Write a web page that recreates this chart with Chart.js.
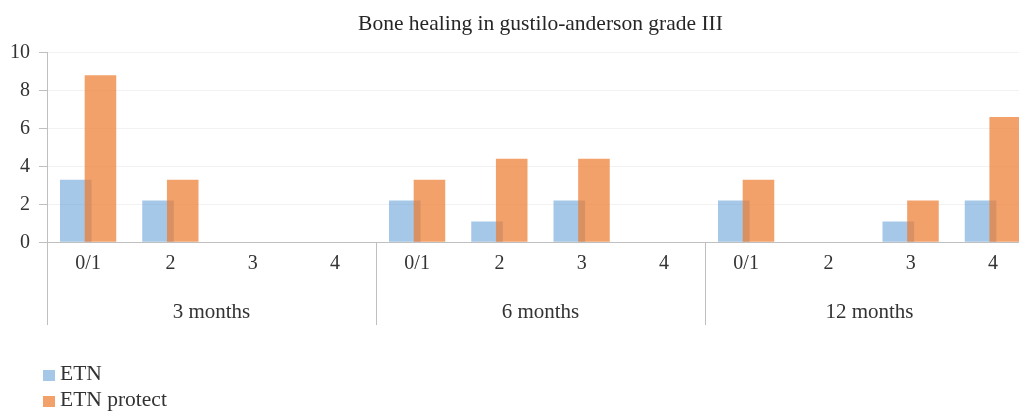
<!DOCTYPE html>
<html><head><meta charset="utf-8">
<script src="https://cdn.jsdelivr.net/npm/chart.js@4"></script>
<style>
html,body{margin:0;padding:0;background:#fff;overflow:hidden;width:1019px;height:412px;}
#wrap{position:absolute;left:0;top:0;width:1036px;height:412px;}
#legend{position:absolute;left:43px;top:360px;font-family:'Liberation Serif',serif;font-size:21.5px;color:#333;}
.row{position:relative;height:26px;width:200px;}
.sw{position:absolute;left:0;top:10px;width:12px;height:11px;}
.lt{position:absolute;left:17px;top:0;line-height:26px;white-space:nowrap;}
</style></head><body>
<div id="wrap"><canvas id="c"></canvas></div>
<div id="legend"></div>
<script>
// ---- data ----
const chartTitle = 'Bone healing in gustilo-anderson grade III';
const grades = ['0/1', '2', '3', '4', '0/1', '2', '3', '4', '0/1', '2', '3', '4'];
const periods = ['3 months', '6 months', '12 months'];
const seriesNames = ['ETN', 'ETN protect'];
const etn = [3.3, 2.2, 0, 0, 2.2, 1.1, 2.2, 0, 2.2, 0, 1.1, 2.2];
const etnProtect = [8.8, 3.3, 0, 0, 3.3, 4.4, 4.4, 0, 3.3, 0, 2.2, 6.6];
const yMin = 0, yMax = 10, yStep = 2;

// ---- style ----
const FONT = 'Liberation Serif';
const blue = 'rgba(91,155,213,0.55)';
const orange = 'rgba(237,125,49,0.72)';
const axisGrey = '#bfbfbf';
const textCol = '#333333';

// draw the orange series on top of the blue one
const drawOrder = {
  id: 'drawOrder',
  beforeDatasetDraw(chart, args) { if (args.index === 1) return false; },
  afterDatasetDraw(chart, args) {
    if (args.index === 0) {
      const ctx = chart.ctx, a = chart.chartArea;
      ctx.save();
      ctx.beginPath();
      ctx.rect(a.left, a.top, a.right - a.left, a.bottom - a.top);
      ctx.clip();
      chart.getDatasetMeta(1).controller.draw();
      ctx.restore();
    }
  }
};

Chart.defaults.font.family = FONT;

const chart = new Chart(document.getElementById('c'), {
  type: 'bar',
  data: {
    labels: grades,
    datasets: [
      { label: seriesNames[0], data: etn, backgroundColor: blue, borderWidth: 0 },
      { label: seriesNames[1], data: etnProtect, backgroundColor: orange, borderWidth: 0 }
    ]
  },
  options: {
    responsive: true,
    maintainAspectRatio: false,
    animation: false,
    categoryPercentage: 0.6,
    barPercentage: 1.28,
    layout: { padding: { left: 0, right: 2, top: 0, bottom: 87.7 } },
    plugins: {
      legend: { display: false },
      tooltip: { enabled: false },
      title: {
        display: true, text: chartTitle, fullSize: false, color: '#262626',
        font: { family: FONT, size: 21.5, weight: 'normal' },
        padding: { top: 11, bottom: 15.7 }
      }
    },
    scales: {
      y: {
        min: yMin, max: yMax,
        ticks: { stepSize: yStep, padding: 9, color: textCol, font: { size: 20 } },
        grid: { color: '#f2f2f2', tickColor: axisGrey, tickLength: 8, drawTicks: true },
        border: { color: axisGrey, width: 1 },
        afterFit(s) { s.width = 47; }
      },
      x: {
        position: 'bottom', weight: 0, offset: true,
        grid: {
          offset: true, drawOnChartArea: false, drawTicks: true, tickLength: 82.7, lineWidth: 1,
          color: (c) => (c.index % 4 === 0 ? axisGrey : 'rgba(0,0,0,0)')
        },
        border: { display: true, color: axisGrey, width: 1 },
        ticks: { padding: -73, color: textCol, font: { size: 20 }, autoSkip: false, maxRotation: 0 },
        afterFit(s) { s.height = 42; }
      },
      x2: {
        type: 'category', labels: periods, position: 'bottom', weight: 1, offset: true,
        grid: { display: false, drawTicks: false, drawOnChartArea: false },
        border: { display: false },
        ticks: { padding: 15.2, color: textCol, font: { size: 21 }, autoSkip: false, maxRotation: 0 },
        afterFit(s) { s.height = 40; }
      }
    }
  },
  plugins: [drawOrder]
});

// HTML legend built from the chart's datasets
const leg = document.getElementById('legend');
chart.data.datasets.forEach((ds) => {
  const row = document.createElement('div'); row.className = 'row';
  const sw = document.createElement('span'); sw.className = 'sw'; sw.style.background = ds.backgroundColor;
  const lt = document.createElement('span'); lt.className = 'lt'; lt.textContent = ds.label;
  row.appendChild(sw); row.appendChild(lt); leg.appendChild(row);
});
</script>
</body></html>
